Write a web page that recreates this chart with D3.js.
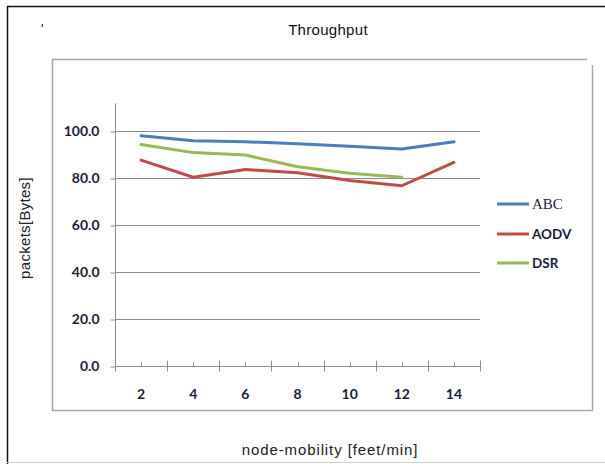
<!DOCTYPE html>
<html>
<head>
<meta charset="utf-8">
<script src="https://cdn.jsdelivr.net/npm/d3@7"></script>
<style>
  html, body { margin: 0; padding: 0; background: #fff; }
  svg { display: block; }
</style>
</head>
<body>
<svg id="chart" width="605" height="464"></svg>
<script>
// Throughput vs node mobility for three routing protocols
const categories = ["2", "4", "6", "8", "10", "12", "14"];
const abcValues  = [98.0, 95.9, 95.4, 94.6, 93.5, 92.3, 95.4];
const aodvValues = [87.6, 80.3, 83.6, 82.2, 78.9, 76.7, 86.6];
const dsrValues  = [94.3, 90.8, 89.8, 84.8, 82.0, 80.3, null];
const yTicks = [0, 20, 40, 60, 80, 100];
const seriesNames = ["ABC", "AODV", "DSR"];
const seriesColors = ["#4a7ebb", "#be4b48", "#98b954"];

const series = [abcValues, aodvValues, dsrValues].map((vals, i) => ({
  name: seriesNames[i],
  color: seriesColors[i],
  values: vals
}));

const svg = d3.select("#chart");
const W = 605, H = 464;

// outer frame: dark top/left, light bottom
svg.append("line").attr("x1", 7).attr("x2", W).attr("y1", 6.5).attr("y2", 6.5)
  .attr("stroke", "#111").attr("stroke-width", 1.5);
svg.append("line").attr("x1", 7.5).attr("x2", 7.5).attr("y1", 6).attr("y2", H)
  .attr("stroke", "#111").attr("stroke-width", 1.5);
svg.append("line").attr("x1", 7).attr("x2", W).attr("y1", 462.5).attr("y2", 462.5)
  .attr("stroke", "#d0d0d0").attr("stroke-width", 1);

// small stray mark near top-left
svg.append("line").attr("x1", 42.5).attr("x2", 42).attr("y1", 24).attr("y2", 27)
  .attr("stroke", "#333").attr("stroke-width", 1.2);

// inner plot frame (gray, open at top-right corner)
const frame = svg.append("g").attr("stroke", "#a6a6a6").attr("stroke-width", 1.5).attr("fill", "none");
frame.append("path").attr("d", "M587,59.5 H52.5 V410.5 H592.5 V65");

// title and axis titles
const titleFont = "Liberation Sans, Arial, sans-serif";
svg.append("text").attr("x", 328).attr("y", 35)
  .attr("text-anchor", "middle")
  .attr("font-family", titleFont)
  .attr("font-size", 15).attr("letter-spacing", 0.3).attr("fill", "#111")
  .text("Throughput");

svg.append("text")
  .attr("transform", "translate(30,228) rotate(-90)")
  .attr("text-anchor", "middle")
  .attr("font-family", titleFont)
  .attr("font-size", 15).attr("letter-spacing", 0.3).attr("fill", "#222")
  .text("packets[Bytes]");

svg.append("text").attr("x", 330).attr("y", 455)
  .attr("text-anchor", "middle")
  .attr("font-family", titleFont)
  .attr("font-size", 15).attr("letter-spacing", 0.9).attr("fill", "#222")
  .text("node-mobility [feet/min]");

// scales
const plotLeft = 115, plotRight = 480, yZero = 366, yHundred = 131;
const x = d3.scaleBand().domain(categories).range([plotLeft, plotRight]).padding(0);
const yMax = 112;
const y = d3.scaleLinear().domain([0, yMax]).range([yZero, yZero - (yZero - yHundred) * yMax / 100]);

// horizontal gridlines
svg.append("g")
  .selectAll("line")
  .data(yTicks.filter(t => t > 0))
  .join("line")
  .attr("x1", plotLeft).attr("x2", plotRight)
  .attr("y1", d => Math.round(y(d)) + 0.5).attr("y2", d => Math.round(y(d)) + 0.5)
  .attr("stroke", "#8c8c8c").attr("stroke-width", 1);

const labelFont = "Lato, 'Open Sans', sans-serif";

// y axis
const yAxis = d3.axisLeft(y).tickValues(yTicks).tickSize(5).tickFormat(d3.format(".1f"));
const gy = svg.append("g").attr("transform", `translate(${plotLeft + 0.5},0.5)`).call(yAxis);
gy.select(".domain").attr("stroke", "#8c8c8c").attr("d", `M0,${y(yMax)}V${y(0)}`);
gy.selectAll(".tick line").attr("stroke", "#8c8c8c");
gy.selectAll(".tick text")
  .attr("x", -16)
  .attr("font-family", labelFont)
  .attr("font-weight", "bold")
  .attr("font-size", 14)
  .attr("fill", "#1c1c38");

// x axis: major ticks at category boundaries, minor ticks at centers
const gx = svg.append("g").attr("transform", `translate(0,${yZero + 0.5})`);
gx.append("line").attr("x1", plotLeft).attr("x2", plotRight + 1)
  .attr("stroke", "#8c8c8c").attr("stroke-width", 1);
const bounds = categories.map(c => x(c)).concat([x(categories[categories.length - 1]) + x.bandwidth()]);
gx.selectAll("line.major").data(bounds).join("line").attr("class", "major")
  .attr("x1", d => Math.round(d) + 0.5).attr("x2", d => Math.round(d) + 0.5)
  .attr("y1", -6).attr("y2", 5)
  .attr("stroke", "#8c8c8c");
gx.selectAll("line.minor").data(categories).join("line").attr("class", "minor")
  .attr("x1", d => Math.round(x(d) + x.bandwidth() / 2) + 0.5)
  .attr("x2", d => Math.round(x(d) + x.bandwidth() / 2) + 0.5)
  .attr("y1", -4).attr("y2", 0)
  .attr("stroke", "#8c8c8c");
gx.selectAll("text").data(categories).join("text")
  .attr("x", d => x(d) + x.bandwidth() / 2)
  .attr("y", 32)
  .attr("text-anchor", "middle")
  .attr("font-family", labelFont)
  .attr("font-weight", "bold")
  .attr("font-size", 14)
  .attr("fill", "#1c1c38")
  .text(d => d);

// series lines
const line = d3.line()
  .defined(d => d.v != null)
  .x(d => x(d.c) + x.bandwidth() / 2)
  .y(d => y(d.v));

svg.append("g").selectAll("path")
  .data(series)
  .join("path")
  .attr("fill", "none")
  .attr("stroke", d => d.color)
  .attr("stroke-width", 3)
  .attr("stroke-linejoin", "round")
  .attr("stroke-linecap", "round")
  .attr("d", d => line(d.values.map((v, i) => ({ c: categories[i], v }))));

// legend
const legendY = [204, 234, 263];
const legend = svg.append("g");
series.forEach((s, i) => {
  legend.append("line")
    .attr("x1", 497).attr("x2", 529)
    .attr("y1", legendY[i]).attr("y2", legendY[i])
    .attr("stroke", s.color).attr("stroke-width", 3);
  legend.append("text")
    .attr("x", 532).attr("y", legendY[i] + 5)
    .attr("font-family", i === 0 ? "Liberation Serif, 'Times New Roman', serif" : labelFont)
    .attr("font-weight", i === 0 ? "normal" : "bold")
    .attr("font-size", i === 0 ? 15 : 13.5)
    .attr("fill", "#1c1c38")
    .text(s.name);
});
</script>
</body>
</html>
